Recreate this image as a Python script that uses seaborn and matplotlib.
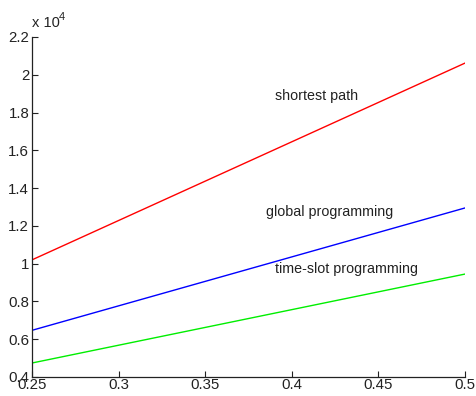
import matplotlib
matplotlib.use("Agg")
import matplotlib.pyplot as plt
import seaborn as sns
import pandas as pd

# Cost versus parameter for three scheduling strategies
x_vals = [0.25, 0.5]
shortest_path = [10200, 20620]
global_programming = [6470, 12950]
timeslot_programming = [4740, 9450]

series_names = ["shortest path", "global programming", "time-slot programming"]
series_colors = ["#ff0000", "#0000ff", "#00ee00"]

x_ticks = [0.25, 0.3, 0.35, 0.4, 0.45, 0.5]
x_tick_labels = ["0.25", "0.3", "0.35", "0.4", "0.45", "0.5"]
y_ticks = [4000, 6000, 8000, 10000, 12000, 14000, 16000, 18000, 20000, 22000]
y_tick_labels = ["0.4", "0.6", "0.8", "1", "1.2", "1.4", "1.6", "1.8", "2", "2.2"]

sns.set_style("ticks")
plt.rcParams["font.family"] = ["Liberation Sans", "DejaVu Sans"]

df = pd.concat([
    pd.DataFrame({"x": x_vals, "y": vals, "series": name})
    for name, vals in zip(series_names,
                          [shortest_path, global_programming, timeslot_programming])
])

fig = plt.figure(figsize=(4.77, 3.96), dpi=100)
ax = fig.add_axes([0.067, 0.048, 0.908, 0.8586])

sns.lineplot(data=df, x="x", y="y", hue="series", hue_order=series_names,
             palette=series_colors, linewidth=1.0, legend=False, ax=ax)

ax.set_xlim(0.25, 0.5)
ax.set_ylim(4000, 22000)
ax.set_xticks(x_ticks)
ax.set_xticklabels(x_tick_labels)
ax.set_yticks(y_ticks)
ax.set_yticklabels(y_tick_labels)
ax.set_xlabel("")
ax.set_ylabel("")
ax.tick_params(direction="in", length=4, width=0.8, labelsize=10.8, colors="#222222")
ax.tick_params(axis="x", pad=0.5)
ax.tick_params(axis="y", pad=2)
for side in ("top", "right"):
    ax.spines[side].set_visible(False)
for side in ("left", "bottom"):
    ax.spines[side].set_linewidth(0.9)
    ax.spines[side].set_color("#222222")

# exponent marker above the y axis
ax.text(0.0, 1.02, "x 10", transform=ax.transAxes, fontsize=10.5,
        ha="left", va="bottom", color="#222222")
ax.text(0.062, 1.045, "4", transform=ax.transAxes, fontsize=8,
        ha="left", va="bottom", color="#222222")

# inline series labels
ax.text(0.39, 18900, "shortest path", fontsize=10.3, ha="left", va="center", color="#222222")
ax.text(0.385, 12750, "global programming", fontsize=10.3, ha="left", va="center", color="#222222")
ax.text(0.39, 9700, "time-slot programming", fontsize=10.3, ha="left", va="center", color="#222222")

fig.savefig("out.png", dpi=100)
